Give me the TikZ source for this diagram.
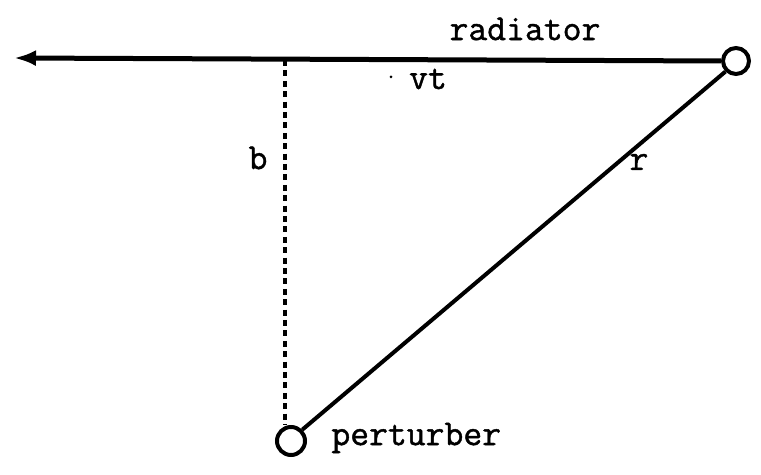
\documentclass[tikz,border=0pt]{standalone}
\usepackage{fontspec}
\newfontfamily\tw{Latin Modern Mono}[FakeBold=1.2]
\usetikzlibrary{arrows.meta}
\begin{document}
\begin{tikzpicture}[x=0.5pt,y=-0.5pt,
  dot/.style={circle,draw,line width=2pt,minimum size=12.5pt,inner sep=0pt},
  lbl/.style={font=\tw\fontsize{18.3}{20}\selectfont,inner sep=0pt},
  heavy/.style={line width=2.5pt},
  thin/.style={line width=2pt}]
\useasboundingbox (0,0) rectangle (761,475);
\node[dot,minimum size=13pt] (rad) at (736,61) {};
\node[dot,minimum size=14pt] (per) at (291,441) {};
\coordinate (tip) at (14,58);
\coordinate (foot) at (285,60);
\draw[heavy,-{Latex[length=11pt,width=8pt]}] (rad.west) -- (tip);
\draw[line width=1.6pt,dash pattern=on 3pt off 2.2pt] (foot) -- (per.north -| foot);
\draw[thin] (per.north east) -- (rad.south west);
\node[lbl] (tr) at (525,29) {radiator};
\node[lbl] (tvt) at (428,79) {vt};
\node[circle,fill,inner sep=0pt,minimum size=1.5pt] (d) at (391,77) {};
\node[lbl] (tb) at (258,158) {b};
\node[lbl] (tr2) at (639,162) {r};
\node[lbl,anchor=west] (tp) at (331,438) {perturber};
\end{tikzpicture}
\end{document}
